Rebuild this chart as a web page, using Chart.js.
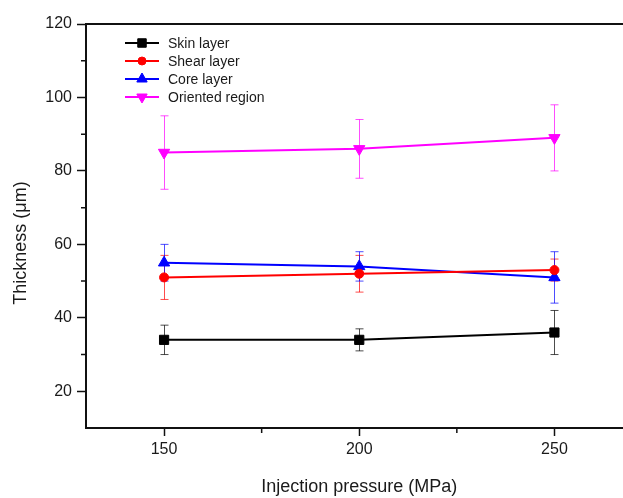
<!DOCTYPE html>
<html>
<head>
<meta charset="utf-8">
<script src="https://cdn.jsdelivr.net/npm/chart.js@4/dist/chart.umd.min.js"></script>
<style>
  html, body { margin: 0; padding: 0; background: #fff; overflow: hidden; }
  #wrap { width: 623px; height: 498px; overflow: hidden; }
</style>
</head>
<body>
<div id="wrap"><canvas id="lineChart" width="640" height="498"></canvas></div>
<script>
// data
var pressures = [150, 200, 250];
var skin = [34, 34, 36];
var skinErr = [4, 3, 6];
var shear = [51, 52, 53];
var shearErr = [6, 5, 3];
var core = [55, 54, 51];
var coreErr = [5, 4, 7];
var oriented = [85, 86, 89];
var orientedErr = [10, 8, 9];
var yLabels = [20, 40, 60, 80, 100, 120];
var xLabels = [150, 200, 250];

var FONT = "'Liberation Sans', Arial, Helvetica, sans-serif";

function pts(ys, errs) {
  return pressures.map(function (p, i) { return { x: p, y: ys[i], err: errs[i] }; });
}

function ds(label, ys, errs, color, style, r, rot) {
  return {
    label: label,
    data: pts(ys, errs),
    borderColor: color,
    backgroundColor: color,
    borderWidth: 2,
    pointStyle: style,
    pointRadius: r,
    pointHoverRadius: r,
    pointRotation: rot || 0,
    pointBorderWidth: 1,
    tension: 0
  };
}

// error bars, drawn under the lines
var errorBars = {
  id: 'errorBars',
  beforeDatasetsDraw: function (chart) {
    var c = chart.ctx, xs = chart.scales.x, ys = chart.scales.y;
    chart.data.datasets.forEach(function (d) {
      c.save();
      c.strokeStyle = d.borderColor;
      c.globalAlpha = 0.7;
      c.lineWidth = 1;
      d.data.forEach(function (p) {
        var x = Math.round(xs.getPixelForValue(p.x)) + 0.5;
        var y1 = ys.getPixelForValue(p.y + p.err);
        var y2 = ys.getPixelForValue(p.y - p.err);
        c.beginPath();
        c.moveTo(x, y1); c.lineTo(x, y2);
        c.moveTo(x - 4, y1); c.lineTo(x + 4, y1);
        c.moveTo(x - 4, y2); c.lineTo(x + 4, y2);
        c.stroke();
      });
      c.restore();
    });
  }
};

// top frame line, short minor ticks, y title, legend box
var extras = {
  id: 'extras',
  afterDraw: function (chart) {
    var c = chart.ctx, a = chart.chartArea, xs = chart.scales.x, ys = chart.scales.y;
    c.save();
    c.strokeStyle = '#111';
    c.lineWidth = 2;
    c.beginPath();
    c.moveTo(a.left - 1, a.top); c.lineTo(a.right + 10, a.top);
    c.stroke();

    c.lineWidth = 1.5;
    c.beginPath();
    xs.ticks.forEach(function (t) {
      if (t.value % 25 === 0 && t.value % 50 !== 0) {
        var x = xs.getPixelForValue(t.value);
        c.moveTo(x, a.bottom); c.lineTo(x, a.bottom + 5);
      }
    });
    ys.ticks.forEach(function (t) {
      if (t.value % 20 !== 0 && t.value > ys.min) {
        var y = ys.getPixelForValue(t.value);
        c.moveTo(a.left, y); c.lineTo(a.left - 5, y);
      }
    });
    c.stroke();
    c.restore();

    // y axis title
    c.save();
    c.fillStyle = '#1a1a1a';
    c.font = '18px ' + FONT;
    c.textAlign = 'center';
    c.textBaseline = 'middle';
    c.translate(21, 243);
    c.rotate(-Math.PI / 2);
    c.fillText('Thickness (\u03bcm)', 0, 0);
    c.restore();

    // legend
    c.save();
    c.font = '14px ' + FONT;
    c.textAlign = 'left';
    c.textBaseline = 'middle';
    chart.data.datasets.forEach(function (d, i) {
      var y = 43 + i * 18;
      c.strokeStyle = d.borderColor;
      c.lineWidth = 2;
      c.beginPath();
      c.moveTo(125, y); c.lineTo(159, y);
      c.stroke();
      c.fillStyle = d.backgroundColor;
      c.lineWidth = 1;
      Chart.helpers.drawPoint(c, {
        pointStyle: d.pointStyle,
        radius: d.pointRadius - 0.5,
        rotation: d.pointRotation,
        borderWidth: 1
      }, 142, y);
      c.fillStyle = '#1a1a1a';
      c.fillText(d.label, 168, y + 1);
    });
    c.restore();
  }
};

var ctxL = document.getElementById('lineChart').getContext('2d');
var myLineChart = new Chart(ctxL, {
  type: 'line',
  data: {
    datasets: [
      ds('Skin layer', skin, skinErr, '#000000', 'rect', 6.5),
      ds('Shear layer', shear, shearErr, '#ff0000', 'circle', 4.5),
      ds('Core layer', core, coreErr, '#0000ff', 'triangle', 6.5),
      ds('Oriented region', oriented, orientedErr, '#ff00ff', 'triangle', 6.5, 180)
    ]
  },
  options: {
    responsive: false,
    animation: false,
    devicePixelRatio: 1,
    layout: { padding: { top: 24, right: 5, left: 0, bottom: 0 } },
    plugins: { legend: { display: false }, tooltip: { enabled: false } },
    scales: {
      x: {
        type: 'linear',
        min: 130,
        max: 270,
        afterFit: function (s) { s.height = 70; },
        ticks: {
          stepSize: 25,
          autoSkip: false,
          maxRotation: 0,
          padding: 4,
          color: '#1a1a1a',
          font: { family: FONT, size: 16 },
          callback: function (v) { return xLabels.indexOf(v) >= 0 ? String(v) : ''; }
        },
        grid: {
          drawOnChartArea: false,
          drawTicks: true,
          tickLength: 8,
          tickWidth: 1.5,
          tickColor: function (ctx) {
            return ctx.tick && xLabels.indexOf(ctx.tick.value) >= 0 ? '#111' : 'rgba(0,0,0,0)';
          }
        },
        border: { display: true, color: '#111', width: 2 },
        title: {
          display: true,
          text: 'Injection pressure (MPa)',
          color: '#1a1a1a',
          font: { family: FONT, size: 18 },
          padding: { top: 14, bottom: 0 }
        }
      },
      y: {
        min: 10,
        max: 120,
        afterFit: function (s) { s.width = 86; },
        ticks: {
          stepSize: 10,
          autoSkip: false,
          padding: 5,
          color: '#1a1a1a',
          font: { family: FONT, size: 16 },
          callback: function (v) { return yLabels.indexOf(v) >= 0 ? String(v) : ''; }
        },
        grid: {
          drawOnChartArea: false,
          drawTicks: true,
          tickLength: 9,
          tickWidth: 1.5,
          tickColor: function (ctx) {
            return ctx.tick && yLabels.indexOf(ctx.tick.value) >= 0 ? '#111' : 'rgba(0,0,0,0)';
          }
        },
        border: { display: true, color: '#111', width: 2 }
      }
    }
  },
  plugins: [errorBars, extras]
});
</script>
</body>
</html>
